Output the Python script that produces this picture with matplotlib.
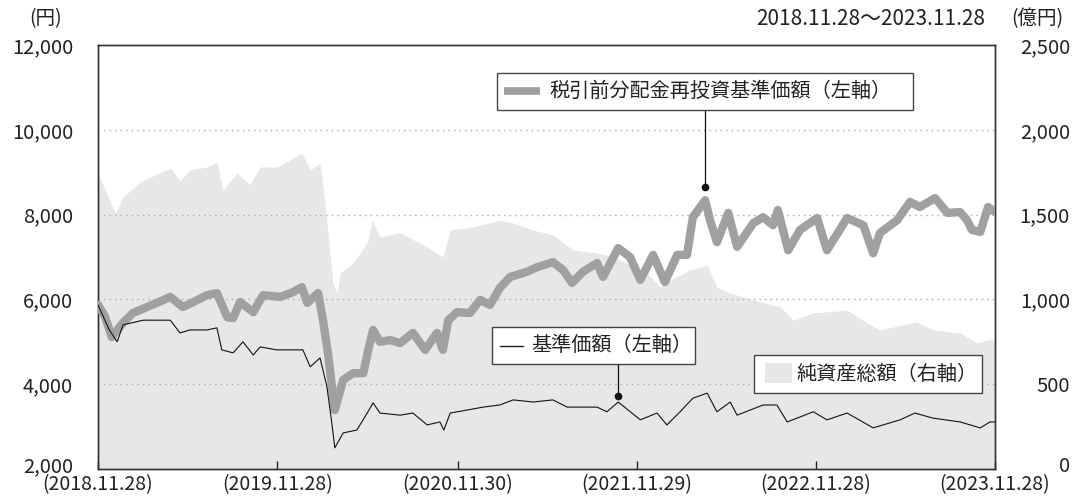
import pandas as pd
import matplotlib
matplotlib.use("Agg")
import matplotlib.pyplot as plt
from matplotlib.patches import Rectangle
from matplotlib.transforms import ScaledTranslation

plt.rcParams['font.family'] = ['Noto Sans CJK JP', 'DejaVu Sans']

# 税引前分配金再投資基準価額 (円)
reinv_dates = ["2018-11-28", "2018-12-12", "2018-12-26", "2019-01-18", "2019-02-07", "2019-03-28",
               "2019-04-24", "2019-05-20", "2019-07-08", "2019-07-28", "2019-08-18", "2019-08-30",
               "2019-09-13", "2019-10-10", "2019-10-30", "2019-12-04", "2019-12-30", "2020-01-17",
               "2020-01-28", "2020-02-19", "2020-02-29", "2020-03-10", "2020-03-24", "2020-04-10",
               "2020-04-30", "2020-05-21", "2020-05-31", "2020-06-10", "2020-06-24", "2020-07-15",
               "2020-08-04", "2020-08-30", "2020-09-24", "2020-10-18", "2020-10-30", "2020-11-10",
               "2020-11-28", "2020-12-24", "2021-01-14", "2021-02-03", "2021-02-23", "2021-03-16",
               "2021-04-19", "2021-05-10", "2021-06-11", "2021-07-02", "2021-07-20", "2021-08-11",
               "2021-09-09", "2021-09-21", "2021-10-22", "2021-11-15", "2021-12-06", "2022-01-01",
               "2022-01-25", "2022-02-19", "2022-03-11", "2022-03-23", "2022-04-17", "2022-04-27",
               "2022-05-11", "2022-06-03", "2022-06-21", "2022-07-24", "2022-08-13", "2022-09-02",
               "2022-09-12", "2022-10-03", "2022-10-27", "2022-12-01", "2022-12-21", "2023-01-31",
               "2023-03-05", "2023-03-25", "2023-04-08", "2023-05-13", "2023-06-08", "2023-06-28",
               "2023-07-29", "2023-08-23", "2023-09-18", "2023-10-02", "2023-10-12", "2023-10-29",
               "2023-11-14", "2023-11-28"]
reinv_values = [5870, 5600, 5110, 5450, 5680, 5920,
                6060, 5820, 6100, 6150, 5580, 5560,
                5940, 5700, 6100, 6060, 6170, 6290,
                5920, 6150, 5510, 4740, 3390, 4100,
                4260, 4260, 4800, 5280, 5000, 5040,
                4970, 5210, 4810, 5210, 4810, 5510,
                5700, 5680, 5990, 5870, 6270, 6530,
                6650, 6760, 6880, 6690, 6390, 6650,
                6860, 6530, 7210, 7000, 6460, 7050,
                6410, 7050, 7050, 7940, 8340, 7870,
                7350, 8040, 7240, 7800, 7940, 7750,
                8110, 7160, 7640, 7920, 7160, 7920,
                7750, 7090, 7570, 7870, 8300, 8180,
                8390, 8040, 8060, 7870, 7640, 7590,
                8180, 8060]

# 基準価額 (円)
nav_dates = ["2018-11-28", "2018-12-20", "2019-01-06", "2019-01-18", "2019-02-28", "2019-04-24",
             "2019-05-14", "2019-06-03", "2019-07-08", "2019-07-28", "2019-08-07", "2019-08-30",
             "2019-09-19", "2019-10-10", "2019-10-24", "2019-11-27", "2019-12-30", "2020-01-19",
             "2020-02-03", "2020-02-23", "2020-03-08", "2020-03-18", "2020-03-24", "2020-04-10",
             "2020-05-08", "2020-05-29", "2020-06-10", "2020-06-24", "2020-08-04", "2020-08-30",
             "2020-09-28", "2020-10-24", "2020-11-01", "2020-11-14", "2020-12-18", "2021-01-20",
             "2021-02-23", "2021-03-22", "2021-05-02", "2021-06-11", "2021-07-10", "2021-08-11",
             "2021-09-09", "2021-09-29", "2021-10-22", "2021-12-06", "2022-01-09", "2022-01-29",
             "2022-02-25", "2022-03-23", "2022-04-21", "2022-05-11", "2022-06-07", "2022-06-21",
             "2022-08-13", "2022-09-10", "2022-10-01", "2022-11-23", "2022-12-21", "2023-01-31",
             "2023-03-25", "2023-05-19", "2023-06-18", "2023-07-25", "2023-09-18", "2023-10-29",
             "2023-11-18", "2023-11-28"]
nav_values = [5870, 5300, 5000, 5400, 5510, 5510,
              5210, 5280, 5280, 5330, 4810, 4740,
              5000, 4690, 4880, 4810, 4810, 4810,
              4410, 4620, 3940, 3080, 2500, 2850,
              2920, 3320, 3560, 3320, 3270, 3320,
              3040, 3110, 2920, 3320, 3390, 3460,
              3510, 3630, 3580, 3630, 3460, 3460,
              3460, 3350, 3580, 3160, 3320, 3040,
              3350, 3670, 3790, 3350, 3580, 3270,
              3510, 3510, 3110, 3350, 3160, 3320,
              2970, 3160, 3320, 3200, 3110, 2970,
              3110, 3110]

# 純資産総額 (億円)
asset_dates = ["2018-11-28", "2018-12-02", "2019-01-02", "2019-01-18", "2019-02-22", "2019-04-24",
               "2019-05-14", "2019-06-03", "2019-07-08", "2019-07-28", "2019-08-09", "2019-09-07",
               "2019-10-03", "2019-10-24", "2019-11-27", "2019-12-24", "2020-01-17", "2020-02-03",
               "2020-02-23", "2020-03-04", "2020-03-14", "2020-03-20", "2020-03-29", "2020-04-04",
               "2020-04-30", "2020-05-29", "2020-06-08", "2020-06-24", "2020-08-04", "2020-09-28",
               "2020-10-30", "2020-11-14", "2020-12-30", "2021-02-23", "2021-03-22", "2021-05-02",
               "2021-06-11", "2021-07-22", "2021-09-09", "2021-10-12", "2021-12-20", "2022-01-15",
               "2022-02-05", "2022-03-17", "2022-04-21", "2022-05-11", "2022-06-07", "2022-07-24",
               "2022-09-17", "2022-10-13", "2022-11-23", "2023-01-31", "2023-03-13", "2023-04-08",
               "2023-06-22", "2023-07-25", "2023-09-18", "2023-10-23", "2023-11-12", "2023-11-28"]
asset_values = [1733, 1716, 1509, 1604, 1692, 1775,
                1700, 1763, 1781, 1810, 1645, 1745,
                1675, 1781, 1781, 1822, 1863, 1763,
                1804, 1568, 1274, 1097, 1038, 1156,
                1215, 1333, 1468, 1368, 1392, 1309,
                1250, 1409, 1427, 1468, 1450, 1409,
                1380, 1291, 1274, 1250, 1156, 1073,
                1114, 1173, 1203, 1073, 1038, 997,
                955, 879, 920, 937, 861, 820,
                867, 820, 802, 743, 761, 761]

tick_dates = ["2018-11-28", "2019-11-28", "2020-11-30", "2021-11-29", "2022-11-28", "2023-11-28"]
tick_labels = ["(2018.11.28)", "(2019.11.28)", "(2020.11.30)", "(2021.11.29)", "(2022.11.28)", "(2023.11.28)"]

left_ticks = [2000, 4000, 6000, 8000, 10000, 12000]
right_ticks = [0, 500, 1000, 1500, 2000, 2500]

# 注記の点
reinv_mark = ("2022-04-17", 8650)
nav_mark = ("2021-10-22", 3720)

line_gray = "#9fa0a2"
area_gray = "#e6e7e8"
txt = "#222222"

fig = plt.figure(figsize=(10.76, 4.98), dpi=100)
ax = fig.add_axes([0.0911, 0.0582, 0.8336, 0.8514])
ax2 = ax.twinx()
ax.set_zorder(ax2.get_zorder() + 1)
ax.patch.set_visible(False)

ax2.fill_between(pd.to_datetime(asset_dates), asset_values, 0, color=area_gray, lw=0)
ax2.set_ylim(0, 2500)
ax2.set_yticks(right_ticks)
ax2.set_yticklabels([f"{v:,}" for v in right_ticks], ha="right")

ax.plot(pd.to_datetime(reinv_dates), reinv_values, color=line_gray, lw=6,
        solid_joinstyle="round", solid_capstyle="round", zorder=3)
ax.plot(pd.to_datetime(nav_dates), nav_values, color="#111111", lw=0.8, zorder=4)

ax.set_ylim(2000, 12000)
ax.set_yticks(left_ticks)
ax.set_yticklabels([f"{v:,}" for v in left_ticks])
ax.set_xlim(pd.Timestamp(tick_dates[0]), pd.Timestamp(tick_dates[-1]))
ax.set_xticks(pd.to_datetime(tick_dates))
ax.set_xticklabels(tick_labels)

for g in [4000, 6000, 8000, 10000]:
    ax.axhline(g, color="#a8a8a8", lw=1.0, ls=(0, (1, 3)), zorder=1)

ax.tick_params(axis="y", length=0, pad=18, labelsize=14.5, colors=txt)
ax2.tick_params(axis="y", length=0, pad=54, labelsize=14.5, colors=txt)
ax.tick_params(axis="x", direction="in", length=6, width=1, pad=4, labelsize=14, colors=txt)
for a in (ax, ax2):
    for s in a.spines.values():
        s.set_color("#333333")
        s.set_linewidth(1.0)

# 下端のラベルは少し上へ
up = ScaledTranslation(0, 5 / 100, fig.dpi_scale_trans)
for lbl in (ax.get_yticklabels()[0], ax2.get_yticklabels()[0]):
    lbl.set_transform(lbl.get_transform() + up)

# 注記
for (d, v) in (reinv_mark, nav_mark):
    ax.plot(pd.Timestamp(d), v, "o", color="#111111", ms=4.5, zorder=6)
ax.plot([pd.Timestamp(reinv_mark[0])] * 2, [reinv_mark[1], 10470], color="#111111", lw=0.9, zorder=6)
ax.plot([pd.Timestamp(nav_mark[0])] * 2, [nav_mark[1], 4475], color="#111111", lw=0.9, zorder=6)

tr = ax.transAxes
boxes = [(0.4448, 0.8467, 0.4638, 0.0873), (0.4392, 0.2476, 0.2264, 0.0873), (0.7313, 0.1792, 0.2542, 0.0897)]
for (bx, by, bw, bh) in boxes:
    ax.add_patch(Rectangle((bx, by), bw, bh, transform=tr, facecolor="white",
                           edgecolor="#444444", lw=1.0, zorder=7))

ax.plot([0.4526, 0.4928], [0.8915, 0.8915], transform=tr, color=line_gray, lw=5.5, zorder=8,
        solid_capstyle="butt")
ax.text(0.5035, 0.8915, "税引前分配金再投資基準価額（左軸）", transform=tr, fontsize=14.5,
        va="center", ha="left", color=txt, zorder=8)

ax.plot([0.4482, 0.4738], [0.2913, 0.2913], transform=tr, color=txt, lw=1.0, zorder=8)
ax.text(0.4835, 0.2913, "基準価額（左軸）", transform=tr, fontsize=14.5,
        va="center", ha="left", color=txt, zorder=8)

ax.add_patch(Rectangle((0.7436, 0.2028), 0.0301, 0.0472, transform=tr, facecolor=area_gray,
                       lw=0, zorder=8))
ax.text(0.7785, 0.224, "純資産総額（右軸）", transform=tr, fontsize=14.5,
        va="center", ha="left", color=txt, zorder=8)

fig.text(46 / 1076, 0.962, "(円)", ha="center", va="center", fontsize=14, color=txt)
fig.text(1037 / 1076, 0.962, "(億円)", ha="center", va="center", fontsize=14, color=txt)
fig.text(985 / 1076, 0.962, "2018.11.28～2023.11.28", ha="right", va="center", fontsize=15,
         color=txt)

fig.savefig("out.png", dpi=100)
